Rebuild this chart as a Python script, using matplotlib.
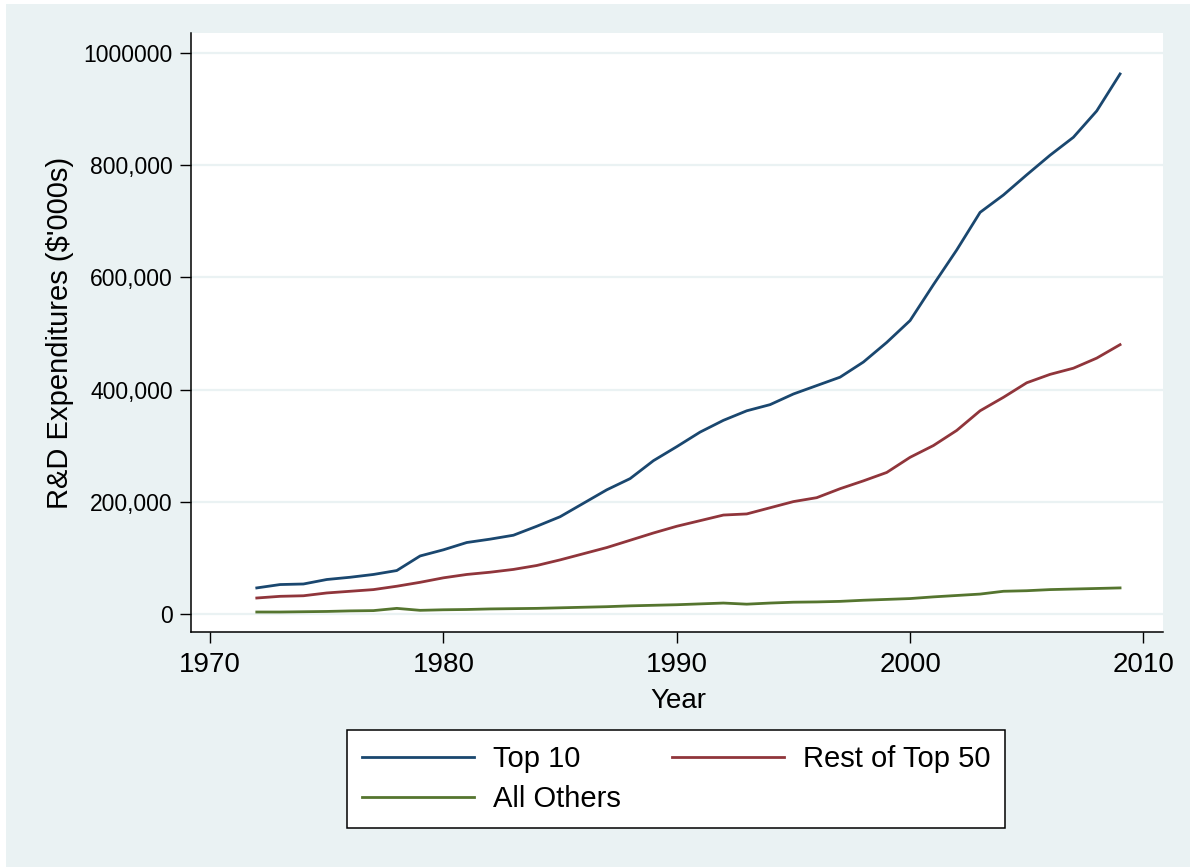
import numpy as np
import matplotlib
matplotlib.use("Agg")
import matplotlib.pyplot as plt
from matplotlib.patches import Rectangle

plt.rcParams['font.family'] = ['Liberation Sans', 'DejaVu Sans']

years = list(range(1972, 2010))
top10 = [46000, 52000, 53000, 61000, 65000, 70000, 77000, 103000, 114000, 127000,
         133000, 140000, 156000, 173000, 197000, 221000, 241000, 273000, 298000, 324000,
         345000, 362000, 373000, 392000, 407000, 422000, 449000, 484000, 523000, 587000,
         649000, 716000, 747000, 783000, 818000, 850000, 897000, 963000]
rest50 = [28000, 31000, 32000, 37000, 40000, 43000, 49000, 56000, 64000, 70000,
          74000, 79000, 86000, 96000, 107000, 118000, 131000, 144000, 156000, 166000,
          176000, 178000, 189000, 200000, 207000, 223000, 237000, 252000, 279000, 300000,
          327000, 362000, 386000, 412000, 427000, 438000, 456000, 480000]
others = [3000, 3000, 3500, 4000, 5000, 5500, 9500, 6000, 7000, 7500,
          8500, 9000, 9500, 10500, 11500, 12500, 14000, 15000, 16000, 17500,
          19000, 17000, 19000, 20500, 21000, 22000, 24000, 25500, 27000, 30000,
          32500, 35000, 40000, 41000, 43000, 44000, 45000, 46000]

series_names = ["Top 10", "Rest of Top 50", "All Others"]
colors = ["#1a476f", "#90353b", "#55752f"]

ytick_vals = [0, 200000, 400000, 600000, 800000, 1000000]
ytick_labels = ["0", "200,000", "400,000", "600,000", "800,000", "1000000"]
xtick_vals = [1970, 1980, 1990, 2000, 2010]

bg = "#eaf2f3"

fig = plt.figure(figsize=(11.9, 8.67), dpi=100, facecolor="white")
fig.patches.append(Rectangle((6 / 1190, 0), 1, 1 - 4 / 867, transform=fig.transFigure,
                             facecolor=bg, edgecolor="none", zorder=-10))

ax = fig.add_axes([0.1603, 0.2707, 0.8170, 0.6912])
ax.set_facecolor("white")

lines = []
for vals, name, c in zip([top10, rest50, others], series_names, colors):
    ln, = ax.plot(years, vals, color=c, lw=2, label=name, zorder=3)
    lines.append(ln)

ax.set_xlim(1969.17, 2010.84)
ax.set_ylim(-33200, 1036000)
ax.set_xticks(xtick_vals)
ax.set_yticks(ytick_vals)
ax.set_yticklabels(ytick_labels)
ax.tick_params(axis='y', labelsize=16.5, length=8, width=1, pad=5, direction='out')
ax.tick_params(axis='x', labelsize=20, length=8, width=1, pad=6, direction='out')
ax.grid(axis='y', color=bg, lw=1.6, zorder=1)
ax.set_axisbelow(True)

for s in ["top", "right"]:
    ax.spines[s].set_visible(False)
for s in ["left", "bottom"]:
    ax.spines[s].set_linewidth(1.1)
    ax.spines[s].set_color("black")

ax.set_ylabel("R&D Expenditures ($'000s)", fontsize=21)
ax.yaxis.set_label_coords(-0.120, 0.5)
ax.set_xlabel("Year", fontsize=20)
ax.xaxis.set_label_coords(0.502, -0.093)

# row-major order like Stata: Top 10 | Rest of Top 50 / All Others
order = [0, 2, 1]
leg = fig.legend(handles=[lines[i] for i in order],
                 labels=[series_names[i] for i in order], ncol=2, loc="center",
                 bbox_to_anchor=(0.568, 0.1015), fontsize=21, frameon=True,
                 fancybox=False, edgecolor="black", facecolor="white", framealpha=1,
                 handlelength=3.84, handletextpad=0.65, columnspacing=1.75,
                 borderpad=0.52, labelspacing=0.40, borderaxespad=0)
leg.get_frame().set_linewidth(1.1)

fig.savefig("out.png", dpi=100, facecolor=fig.get_facecolor())
